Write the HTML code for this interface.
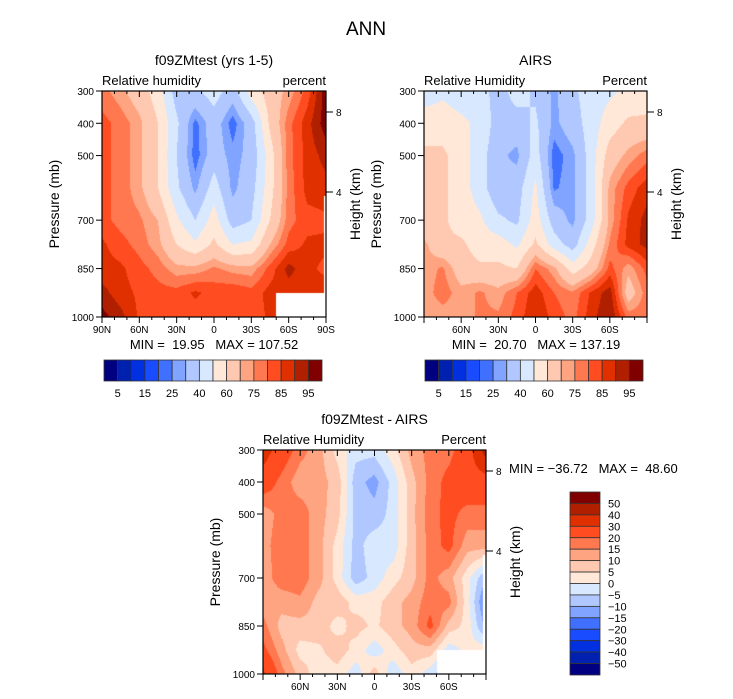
<!DOCTYPE html>
<html><head><meta charset="utf-8"><style>
body{margin:0;background:#fff;width:733px;height:699px;overflow:hidden;position:relative;font-family:"Liberation Sans",sans-serif;color:#000}
.t{position:absolute;white-space:nowrap;line-height:1}
canvas{position:absolute}
svg{position:absolute;left:0;top:0}
svg text{white-space:pre}
</style></head><body>
<div class="t" style="left:346px;top:20px;font-size:19px">ANN</div>
<canvas id="c1" width="224" height="226" style="left:102px;top:91px"></canvas>
<canvas id="c2" width="223" height="226" style="left:424px;top:91px"></canvas>
<canvas id="c3" width="223" height="224" style="left:263px;top:450px"></canvas>
<svg id="s" width="733" height="699"></svg>
<script>
// ---------- data ----------
const lats=[90,75,60,45,30,15,0,-15,-30,-45,-60,-75,-90];
const levels=[300,400,500,600,700,775,850,925,1000];
const rhBounds=[5,10,15,20,25,30,40,50,60,70,75,80,85,90,95];
const diffBounds=[-50,-40,-30,-20,-15,-10,-5,0,5,10,15,20,30,40,50];
const rhLabels=['5','15','25','40','60','75','85','95'];
const diffLabels=['50','40','30','20','15','10','5','0','\u22125','\u221210','\u221215','\u221220','\u221230','\u221240','\u221250'];
const colors=['#000080','#0020b0','#0030e0','#1a4cff','#4070ff','#80a4ff','#b0c8ff','#d8e8ff','#ffe8d8','#ffc8b0','#ffa480','#ff7850','#ff4c20','#e03000','#b02000','#800000'];
const modelRH=[
[77,72,65,55,35,38,45,35,55,65,72,82,98],
[82,78,72,60,42,23,35,22,35,62,78,88,98],
[82,78,72,60,40,22,35,27,33,55,78,87,92],
[82,78,72,60,42,28,45,28,36,56,77,87,88],
[82,78,76,70,52,40,55,35,40,60,78,83,84],
[86,82,78,72,60,52,62,50,52,70,82,86,86],
[87,86,82,78,72,72,76,73,72,82,92,86,84],
[92,87,84,82,82,86,83,84,82,87,87,87,87],
[97,92,84,82,82,82,82,82,82,86,84,84,84]];
const airsRH=[
[45,48,45,45,35,45,38,28,38,45,48,52,55],
[55,55,52,48,35,35,42,28,35,45,55,62,62],
[62,62,55,45,32,28,45,22,28,45,65,72,78],
[62,62,55,45,32,35,52,24,28,45,72,82,88],
[62,62,55,52,42,38,55,35,28,45,72,86,92],
[72,62,62,55,55,48,62,45,35,55,76,87,92],
[72,76,65,62,62,60,80,72,55,65,82,72,82],
[72,78,72,76,72,80,88,80,76,86,93,65,78],
[72,72,72,76,76,82,90,83,78,88,95,78,78]];
const diffRH=[
[35,25,17,12,3,-3,-3,3,12,17,18,25,45],
[25,18,12,12,8,-8,-12,-3,8,17,22,25,25],
[12,17,18,12,7,-7,-8,-3,8,18,22,18,18],
[13,18,18,12,3,-7,-2,-3,8,17,22,12,12],
[12,18,18,12,3,-8,-3,3,8,17,12,2,-10],
[12,12,14,8,8,3,3,8,12,18,17,2,-17],
[17,8,8,8,3,7,4,8,12,22,8,3,-12],
[22,12,3,4,8,3,-3,3,8,8,-3,2,3],
[32,17,8,2,3,-3,8,-4,3,-3,-12,-5,3]];
const pTicks=[300,400,500,700,850,1000];
const xTickLab=['90N','60N','30N','0','30S','60S','90S'];
const xTickLat=[90,60,30,0,-30,-60,-90];

// ---------- render ----------
function lvl(v,b){let i=0;while(i<b.length&&v>=b[i])i++;return i;}
function hex(c){return [parseInt(c.substr(1,2),16),parseInt(c.substr(3,2),16),parseInt(c.substr(5,2),16)];}
const rgb=colors.map(hex);
function xOf(lat,w){return (90-lat)/180*w;}
function yOf(p,h){return (p-300)/700*h;}
function field(id,grid,bounds){
  const c=document.getElementById(id),ctx=c.getContext('2d'),w=c.width,h=c.height;
  const img=ctx.createImageData(w,h);
  for(let py=0;py<h;py++){
    const p=300+(py+0.5)/h*700;
    let j=0;while(j<levels.length-2&&p>levels[j+1])j++;
    const ty=(p-levels[j])/(levels[j+1]-levels[j]);
    for(let px=0;px<w;px++){
      const lat=90-(px+0.5)/w*180;
      let i=0;while(i<lats.length-2&&lat<lats[i+1])i++;
      const tx=(lats[i]-lat)/(lats[i]-lats[i+1]);
      const v=(grid[j][i]*(1-tx)+grid[j][i+1]*tx)*(1-ty)+(grid[j+1][i]*(1-tx)+grid[j+1][i+1]*tx)*ty;
      const col=rgb[lvl(v,bounds)],k=(py*w+px)*4;
      img.data[k]=col[0];img.data[k+1]=col[1];img.data[k+2]=col[2];img.data[k+3]=255;
    }
  }
  ctx.putImageData(img,0,0);
  return ctx;
}
const k1=field('c1',modelRH,rhBounds);k1.fillStyle='#fff';k1.fillRect(174,202,60,30);k1.fillRect(222,105,10,130);
field('c2',airsRH,rhBounds);
const k3=field('c3',diffRH,diffBounds);k3.fillStyle='#fff';k3.fillRect(174,200,60,30);k3.fillRect(220,105,10,130);

const NS='http://www.w3.org/2000/svg',S=document.getElementById('s');
function el(tag,a,txt){const e=document.createElementNS(NS,tag);for(const k in a)e.setAttribute(k,a[k]);if(txt!==undefined)e.textContent=txt;S.appendChild(e);return e;}
function panel(x0,y0,w,h,o){
  const g='#000';
  el('rect',{x:x0,y:y0,width:w,height:h,fill:'none',stroke:g,'stroke-width':1.2});
  for(let lat=90;lat>=-90;lat-=10){
    const x=x0+xOf(lat,w),L=(lat%30===0)?6:3;
    el('line',{x1:x,y1:y0,x2:x,y2:y0+L,stroke:g});
    el('line',{x1:x,y1:y0+h,x2:x,y2:y0+h+L,stroke:g});
  }
  xTickLat.forEach((lat,i)=>{
    if(o.skipEnds&&(i===0||i===xTickLat.length-1))return;
    const t=el('text',{x:x0+xOf(lat,w),y:y0+h+16,'font-size':10,'text-anchor':'middle'},xTickLab[i]);
    
  });
  pTicks.forEach(p=>{
    const y=y0+yOf(p,h);
    el('line',{x1:x0-6,y1:y,x2:x0,y2:y,stroke:g});
    const t=el('text',{x:x0-8,y:y+4,'font-size':10,'text-anchor':'end'},String(p));
    
  });
  [[8,21],[4,101]].forEach(([km,dy])=>{
    el('line',{x1:x0+w,y1:y0+dy,x2:x0+w+7,y2:y0+dy,stroke:g});
    el('text',{x:x0+w+10,y:y0+dy+4,'font-size':10},String(km));
  });
  const yt=el('text',{x:0,y:0,'font-size':14,'text-anchor':'middle',transform:`translate(${x0-43},${y0+h/2}) rotate(-90)`},'Pressure (mb)');
  
  const ht=el('text',{x:0,y:0,'font-size':14,'text-anchor':'middle',transform:`translate(${x0+w+34},${y0+h/2}) rotate(-90)`},'Height (km)');
  
  const tt=el('text',{x:x0+w/2,y:y0-26,'font-size':14,'text-anchor':'middle'},o.title);
  
  el('text',{x:x0,y:y0-6,'font-size':13},o.left);
  el('text',{x:x0+w,y:y0-6,'font-size':13,'text-anchor':'end'},o.right);
}
panel(102,91,224,226,{title:'f09ZMtest (yrs 1-5)',left:'Relative humidity',right:'percent'});
panel(424,91,223,226,{title:'AIRS',left:'Relative Humidity',right:'Percent',skipEnds:true});
panel(263,450,223,224,{title:'f09ZMtest - AIRS',left:'Relative Humidity',right:'Percent',skipEnds:true});
el('text',{x:214,y:349,'font-size':13,'text-anchor':'middle'},'MIN =  19.95   MAX = 107.52');
el('text',{x:536,y:349,'font-size':13,'text-anchor':'middle'},'MIN =  20.70   MAX = 137.19');
el('text',{x:509,y:473,'font-size':13},'MIN = \u221236.72   MAX =  48.60');
function hbar(x0,y0,w,h){
  const bw=w/colors.length;
  colors.forEach((c,i)=>{const r=el('rect',{x:x0+i*bw,y:y0,width:bw,height:h,fill:c,stroke:'#333','stroke-width':0.8});
    });
  rhLabels.forEach((l,i)=>el('text',{x:x0+(2*i+1)*bw,y:y0+h+16,'font-size':11,'text-anchor':'middle'},l));
}
hbar(104,360,218,21);hbar(425,360,218,21);
(function(){
  const x0=570,y0=492,w=30,h=183,bh=h/colors.length;
  colors.slice().reverse().forEach((c,i)=>{const r=el('rect',{x:x0,y:y0+i*bh,width:w,height:bh,fill:c,stroke:'#333','stroke-width':0.8});
    });
  diffLabels.forEach((l,i)=>el('text',{x:x0+w+8,y:y0+(i+1)*bh+4,'font-size':11},l));
})();
</script>
</body></html>
